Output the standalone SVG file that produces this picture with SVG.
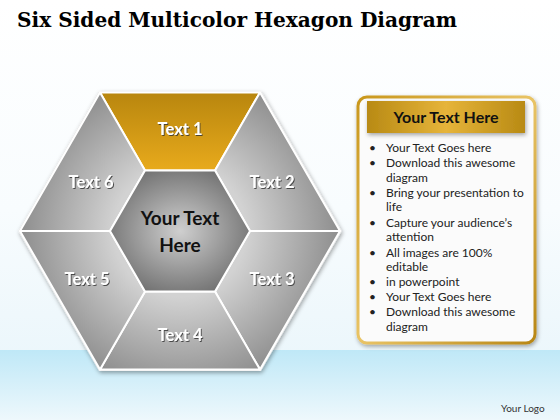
<svg xmlns="http://www.w3.org/2000/svg" width="560" height="420" viewBox="0 0 560 420">
<defs>
<linearGradient id="bg" x1="0" y1="0" x2="0" y2="1">
<stop offset="0" stop-color="#ffffff"/>
<stop offset="0.5" stop-color="#f8fcfe"/>
<stop offset="1" stop-color="#e6f4fa"/>
</linearGradient>
<linearGradient id="band" x1="0" y1="0" x2="0" y2="1">
<stop offset="0" stop-color="#bfe8f7"/>
<stop offset="1" stop-color="#eef8fc"/>
</linearGradient>
<radialGradient id="seg" gradientUnits="userSpaceOnUse" cx="180" cy="231" r="165">
<stop offset="0.4" stop-color="#d2d2d2"/>
<stop offset="1" stop-color="#8a8a8a"/>
</radialGradient>
<linearGradient id="gold" x1="0" y1="0" x2="0" y2="1">
<stop offset="0" stop-color="#b8860e"/>
<stop offset="1" stop-color="#e8aa1c"/>
</linearGradient>
<radialGradient id="core" cx="0.5" cy="0.5" r="0.6">
<stop offset="0" stop-color="#cfcfcf"/>
<stop offset="1" stop-color="#6a6a6a"/>
</radialGradient>
<linearGradient id="hdr" x1="0" y1="0" x2="1" y2="0">
<stop offset="0" stop-color="#b88a14"/>
<stop offset="0.5" stop-color="#e6b43a"/>
<stop offset="1" stop-color="#b88a14"/>
</linearGradient>
<linearGradient id="frame" x1="0" y1="0" x2="1" y2="1">
<stop offset="0" stop-color="#c9971c"/>
<stop offset="0.5" stop-color="#e9c466"/>
<stop offset="1" stop-color="#b88614"/>
</linearGradient>
<filter id="sh" x="-10%" y="-10%" width="130%" height="130%">
<feDropShadow dx="1" dy="2" stdDeviation="2" flood-color="#000" flood-opacity="0.35"/>
</filter>
<filter id="ts" x="-20%" y="-30%" width="140%" height="160%">
<feDropShadow dx="1" dy="1" stdDeviation="0.6" flood-color="#333" flood-opacity="0.8"/>
</filter>
</defs>
<style>
.seg{fill:url(#seg);stroke:#ffffff;stroke-width:2;stroke-linejoin:round}
.lbl{font-family:Lato,"Open Sans",sans-serif;font-weight:bold;font-size:16.5px;fill:#ffffff;text-anchor:middle}
.blt{font-family:Lato,"Open Sans",sans-serif;font-size:12px;fill:#222222}
</style>
<rect x="0" y="0" width="560" height="420" fill="url(#bg)"/>
<rect x="0" y="350" width="560" height="70" fill="url(#band)"/>
<text x="17" y="27" font-family="'DejaVu Serif',serif" font-weight="bold" font-size="21" textLength="440" lengthAdjust="spacingAndGlyphs" fill="#000">Six Sided Multicolor Hexagon Diagram</text>

<g id="hexagon">
<polygon points="340,231 260,369.6 100,369.6 20,231 100,92.4 260,92.4" fill="#9a9a9a" stroke="#e8e8e8" stroke-width="3" stroke-linejoin="round" filter="url(#sh)"/>
<g id="seg1"><polygon points="100,92.4 260,92.4 215,170.4 145,170.4" fill="url(#gold)" stroke="#ffffff" stroke-width="2" stroke-linejoin="round"/><text class="lbl" x="180" y="135" filter="url(#ts)">Text 1</text></g>
<g id="seg2"><polygon class="seg" points="260,92.4 340,231 250,231 215,170.4"/><text class="lbl" x="272" y="188" filter="url(#ts)">Text 2</text></g>
<g id="seg3"><polygon class="seg" points="340,231 260,369.6 215,291.6 250,231"/><text class="lbl" x="272" y="285" filter="url(#ts)">Text 3</text></g>
<g id="seg4"><polygon class="seg" points="260,369.6 100,369.6 145,291.6 215,291.6"/><text class="lbl" x="180" y="341" filter="url(#ts)">Text 4</text></g>
<g id="seg5"><polygon class="seg" points="100,369.6 20,231 110,231 145,291.6"/><text class="lbl" x="87" y="285" filter="url(#ts)">Text 5</text></g>
<g id="seg6"><polygon class="seg" points="20,231 100,92.4 145,170.4 110,231"/><text class="lbl" x="91" y="188" filter="url(#ts)">Text 6</text></g>
<g id="core-node"><polygon points="250,231 215,291.6 145,291.6 110,231 145,170.4 215,170.4" fill="url(#core)" stroke="#ffffff" stroke-width="2" stroke-linejoin="round"/>
<text x="180" y="225" font-family="Lato,'Open Sans',sans-serif" font-weight="bold" font-size="19" fill="#111" text-anchor="middle">Your Text</text>
<text x="180" y="252" font-family="Lato,'Open Sans',sans-serif" font-weight="bold" font-size="19" fill="#111" text-anchor="middle">Here</text></g>
</g>
<g id="connectors"/>

<g id="panel">
<rect x="358" y="97" width="177" height="246" rx="9" fill="#fbfbfb" stroke="url(#frame)" stroke-width="3" filter="url(#sh)"/>
<rect x="367" y="101" width="158" height="32" fill="url(#hdr)" filter="url(#sh)"/>
<text x="446" y="123" font-family="Lato,'Open Sans',sans-serif" font-weight="bold" font-size="16" fill="#111" text-anchor="middle">Your Text Here</text>
<g class="blt">
<text x="369" y="152">•</text><text x="386" y="152">Your Text Goes here</text>
<text x="369" y="167">•</text><text x="386" y="167">Download this awesome</text>
<text x="386" y="182">diagram</text>
<text x="369" y="197">•</text><text x="386" y="197">Bring your presentation to</text>
<text x="386" y="211">life</text>
<text x="369" y="227">•</text><text x="386" y="227">Capture your audience’s</text>
<text x="386" y="241">attention</text>
<text x="369" y="257">•</text><text x="386" y="257">All images are 100%</text>
<text x="386" y="271">editable</text>
<text x="369" y="286">•</text><text x="386" y="286">in powerpoint</text>
<text x="369" y="301">•</text><text x="386" y="301">Your Text Goes here</text>
<text x="369" y="316">•</text><text x="386" y="316">Download this awesome</text>
<text x="386" y="331">diagram</text>
</g>
</g>
<text x="501" y="412" font-family="Lato,'Open Sans',sans-serif" font-size="10" fill="#333">Your Logo</text>
</svg>
